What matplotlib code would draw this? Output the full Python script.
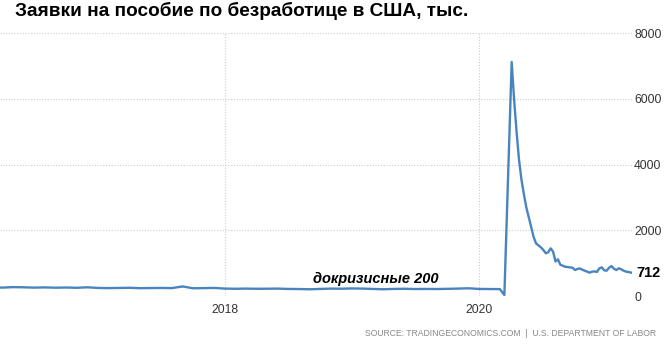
import matplotlib
matplotlib.use("Agg")
import matplotlib.pyplot as plt
import pandas as pd

# monthly pre-crisis readings (thousands), Mar 2016 .. Mar 2020
pre_dates = pd.date_range("2016-03-01", "2020-03-01", freq="MS")
pre_values = [
    265, 255, 270, 265, 255, 262, 252, 258, 250, 265,            # 2016 Mar-Dec
    245, 240, 245, 250, 238, 242, 245, 240, 290, 235, 240, 245,  # 2017
    225, 220, 225, 220, 222, 225, 215, 212, 205, 215, 225, 222,  # 2018
    230, 225, 215, 205, 215, 220, 212, 215, 212, 218, 225, 235,  # 2019
    215, 212, 210,                                               # 2020 Jan-Mar
]

# weekly readings from mid March 2020
crisis_dates = pd.date_range("2020-03-14", periods=53, freq="7D")
crisis_values = [
    30, 2400, 4750,
    7120, 5970, 5000, 4150, 3550, 3100, 2700, 2400, 2100, 1800,
    1600, 1540, 1480, 1400, 1300, 1330, 1450, 1350, 1050, 1115,
    950, 920, 890, 880, 870, 860, 790, 820, 840, 800,
    770, 740, 710, 740, 750, 730, 840, 870, 780, 770,
    860, 910, 830, 790, 845, 810, 770, 740, 730, 712,
]

dates = list(pre_dates) + list(crisis_dates)
values = pre_values + crisis_values

yticks = [0, 2000, 4000, 6000, 8000]
xticks = ["2018-01-01", "2020-01-01"]
xtick_labels = ["2018", "2020"]

line_color = "#4a84bf"
plt.rcParams["font.family"] = ["Liberation Sans", "DejaVu Sans"]

fig = plt.figure(figsize=(6.66, 3.46), dpi=100)
ax = fig.add_axes([0.0, 0.1445, 0.949, 0.7601])

ax.plot(dates, values, color=line_color, linewidth=1.7, solid_joinstyle="round")

ax.set_xlim(pd.Timestamp("2016-03-25"), pd.Timestamp("2021-03-16"))
ax.set_ylim(0, 8000)

ax.set_yticks(yticks)
ax.set_xticks(pd.to_datetime(xticks))
ax.set_xticklabels(xtick_labels)
ax.yaxis.tick_right()
ax.tick_params(axis="y", length=0, pad=1.5, labelsize=8.7, labelcolor="#333333")
ax.tick_params(axis="x", length=0, pad=6, labelsize=8.7, labelcolor="#333333")

ax.grid(True, axis="both", linestyle=(0, (1, 1.5)), color="#cccccc", linewidth=0.8)
for s in ax.spines.values():
    s.set_visible(False)

# last value label
ax.annotate(f"{values[-1]}", xy=(1.0, values[-1]), xycoords=("axes fraction", "data"),
            xytext=(3, 0), textcoords="offset points", va="center", ha="left",
            fontsize=10.5, fontweight="bold", color="black")

ax.text(pd.Timestamp("2019-03-10"), 300, "докризисные 200", fontsize=10.5,
        fontweight="bold", fontstyle="italic", color="black", ha="center", va="bottom")

fig.text(0.0225, 0.995, "Заявки на пособие по безработице в США, тыс.",
         fontsize=13.7, fontweight="bold", ha="left", va="top")
fig.text(0.985, 0.022, "SOURCE: TRADINGECONOMICS.COM  |  U.S. DEPARTMENT OF LABOR",
         fontsize=6.2, color="#888888", ha="right", va="bottom")

fig.savefig("out.png", dpi=100)
